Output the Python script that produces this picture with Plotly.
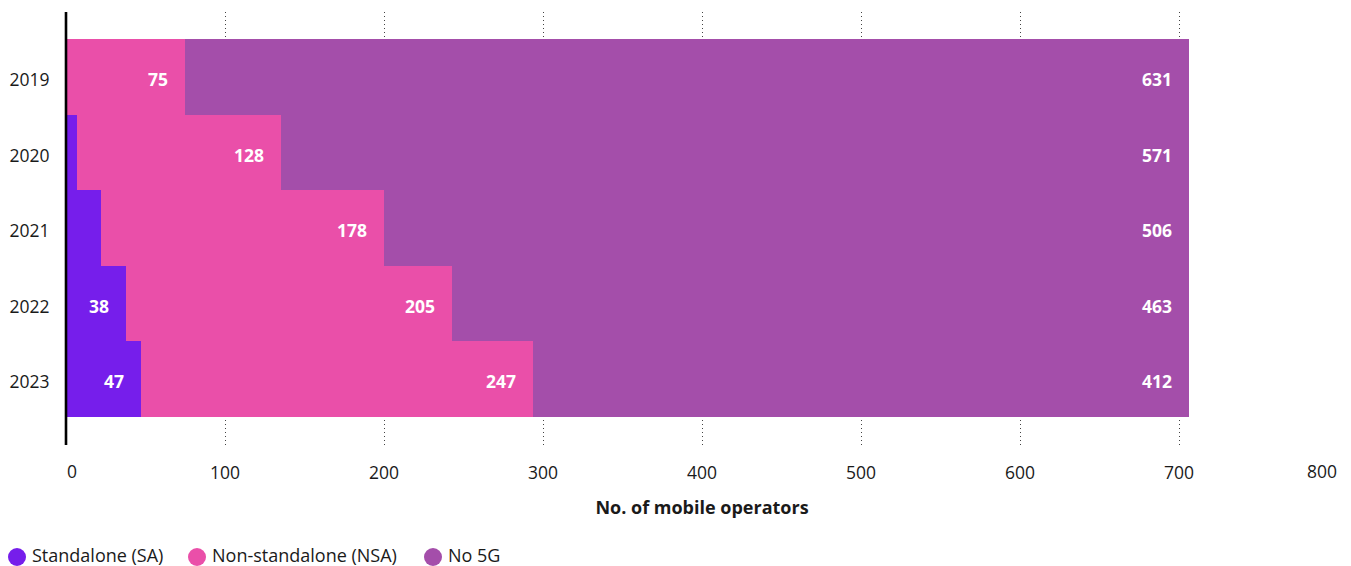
import plotly.graph_objects as go

years = ["2019", "2020", "2021", "2022", "2023"]
sa = [0, 7, 22, 38, 47]
nsa = [75, 128, 178, 205, 247]
no5g = [631, 571, 506, 463, 412]
series_names = ["Standalone (SA)", "Non-standalone (NSA)", "No 5G"]
colors = ["#761EEB", "#EA4FA9", "#A44EAA"]
x_ticks = [0, 100, 200, 300, 400, 500, 600, 700, 800]

FONT = "Open Sans"
TXT = "#1a1a1a"
series = [sa, nsa, no5g]

# figure geometry (pixels)
W, H = 1351, 566
ML, MR, MT, MB = 66, 13, 12, 121
PW, PH = W - ML - MR, H - MT - MB


def px_x(px):
    return (px - ML) / PW


def px_y(py):
    return (H - MB - py) / PH


fig = go.Figure()
for name, vals, col in zip(series_names, series, colors):
    fig.add_trace(go.Bar(
        y=years, x=vals, orientation="h", name=name,
        marker=dict(color=col, line=dict(width=0)),
        showlegend=False, hoverinfo="x+name",
    ))

annotations = []
shapes = []

# value labels at the inner end of each segment
for i, y in enumerate(years):
    start = 0
    for vals in series:
        v = vals[i]
        end = start + v
        if v >= 30:
            annotations.append(dict(
                x=end, y=i, xref="x", yref="y", text=f"<b>{v}</b>",
                showarrow=False, xanchor="right", xshift=-15, yshift=-2,
                font=dict(family=FONT, size=17.5, color="white"),
            ))
        start = end

# edge tick labels kept inside the canvas
annotations.append(dict(x=0, y=0, xref="x", yref="paper", text=str(x_ticks[0]),
                        showarrow=False, xanchor="left", yanchor="top",
                        yshift=-12, xshift=-1,
                        font=dict(family=FONT, size=17.5, color=TXT)))
annotations.append(dict(x=800, y=0, xref="x", yref="paper", text=str(x_ticks[-1]),
                        showarrow=False, xanchor="right", yanchor="top",
                        yshift=-12, xshift=1,
                        font=dict(family=FONT, size=17.5, color=TXT)))

# legend: circle swatches with labels along the bottom edge
LEG_Y = 555
legend_pos = [(17, 31), (197, 211), (433, 447)]
for (cx, tx), name, col in zip(legend_pos, series_names, colors):
    shapes.append(dict(type="circle", xref="paper", yref="paper",
                       xsizemode="pixel", ysizemode="pixel",
                       xanchor=px_x(cx), yanchor=px_y(LEG_Y + 2),
                       x0=-9, x1=9, y0=-9, y1=9,
                       fillcolor=col, line=dict(width=0)))
    annotations.append(dict(x=px_x(tx), y=px_y(LEG_Y), xref="paper", yref="paper",
                            text=name, showarrow=False, xanchor="left",
                            yanchor="middle", borderpad=0,
                            font=dict(family=FONT, size=18, color=TXT)))

# y axis line (paper-referenced so it is not clipped by the plot area)
shapes.append(dict(type="line", xref="paper", yref="paper", x0=0, x1=0,
                   y0=0, y1=1, line=dict(color="black", width=2.6)))

fig.update_layout(
    width=W, height=H,
    barmode="stack", bargap=0,
    plot_bgcolor="white", paper_bgcolor="white",
    margin=dict(l=ML, r=MR, t=MT, b=MB, autoexpand=False),
    font=dict(family=FONT, size=17.5, color=TXT),
    showlegend=False,
    annotations=annotations,
    shapes=shapes,
    xaxis=dict(
        range=[0, 800], tickvals=x_ticks,
        ticktext=[""] + [str(t) for t in x_ticks[1:-1]] + [""],
        showgrid=True, gridcolor="#444444", griddash="1px,3px", gridwidth=1,
        zeroline=False, showline=False, automargin=False,
        ticks="outside", ticklen=12, tickcolor="rgba(0,0,0,0)",
        tickfont=dict(family=FONT, size=17.5, color=TXT),
        title=dict(text="<b>No. of mobile operators</b>", standoff=18,
                   font=dict(family=FONT, size=18, color=TXT)),
    ),
    yaxis=dict(
        type="category",
        categoryorder="array", categoryarray=years,
        range=[4.87, -0.86],
        showgrid=False, zeroline=False, showline=False, automargin=False,
        ticks="outside", ticklen=12, tickcolor="rgba(0,0,0,0)",
        ticklabelshift=-3,
        tickfont=dict(family=FONT, size=17.5, color=TXT),
    ),
)

fig.write_html("out.html")
